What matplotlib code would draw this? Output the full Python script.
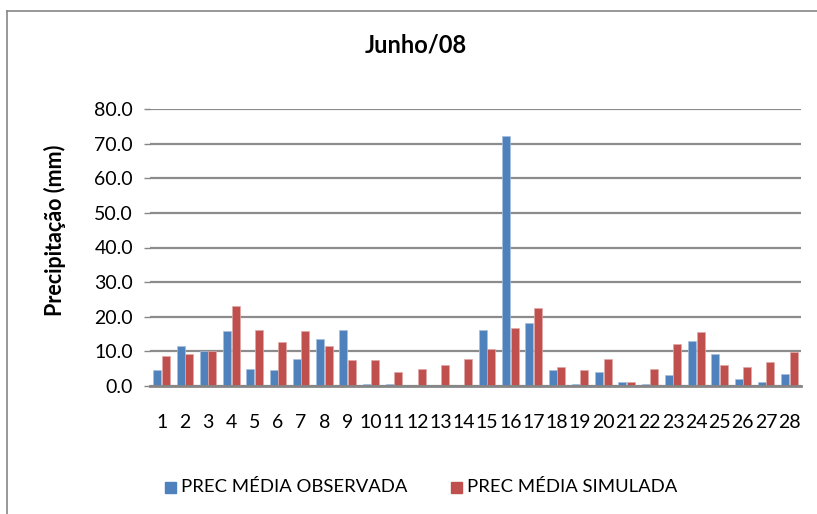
import matplotlib
matplotlib.use("Agg")
import matplotlib.pyplot as plt
import numpy as np
from matplotlib.patches import Rectangle
from matplotlib.lines import Line2D

days = [str(d) for d in range(1, 29)]
observada = [4.5, 11.6, 10.2, 15.9, 5.0, 4.5, 7.9, 13.5, 16.3, 0.7,
             0.7, 0.1, 0.0, 0.0, 16.3, 72.2, 18.3, 4.5, 0.7, 4.0,
             1.2, 0.7, 3.1, 13.1, 9.2, 2.1, 1.2, 3.5]
simulada = [8.8, 9.2, 10.2, 23.0, 16.3, 12.6, 15.9, 11.6, 7.4, 7.4,
            3.9, 5.0, 6.0, 7.9, 10.8, 16.8, 22.5, 5.5, 4.5, 7.9,
            1.25, 5.0, 12.2, 15.5, 6.0, 5.5, 6.9, 9.8]
yticks = [0, 10, 20, 30, 40, 50, 60, 70, 80]

plt.rcParams['font.family'] = ['Lato', 'DejaVu Sans']

fig = plt.figure(figsize=(8.17, 5.14), dpi=100)
W, H = 817, 514
ax = fig.add_axes([150 / W, 1 - 386 / H, (801 - 150) / W, (386 - 109) / H])

x = np.arange(len(days))
bw = 0.34
blue = '#4F81BD'
red = '#C0504D'
ax.bar(x - bw / 2 - 0.01, observada, bw, color=blue, edgecolor='#a7c0de', linewidth=0.5, zorder=3)
ax.bar(x + bw / 2 + 0.01, simulada, bw, color=red, edgecolor='#e0a9a8', linewidth=0.5, zorder=3)

ax.set_xlim(-0.5, len(days) - 0.5)
ax.set_ylim(0, 80)
ax.set_yticks(yticks)
ax.set_yticklabels([f"{v:.1f}" for v in yticks], fontsize=14)
ax.set_xticks(x)
ax.set_xticklabels(days, fontsize=14)
ax.tick_params(axis='x', length=0, pad=20)
ax.tick_params(axis='y', length=4.3, color='#868686', width=1, pad=8)
ax.yaxis.grid(True, color='#8c8c8c', linewidth=1.6, zorder=0)
ax.set_axisbelow(True)
for s in ['top', 'right', 'left']:
    ax.spines[s].set_visible(False)
ax.spines['bottom'].set_color('#868686')
ax.spines['bottom'].set_linewidth(2)
ax.spines['bottom'].set_zorder(4)

fig.text(416 / W, 1 - 45 / H, 'Junho/08', ha='center', va='center',
         fontsize=17, fontweight='bold')
fig.text(55 / W, 1 - 230 / H, 'Precipitação (mm)', ha='center', va='center',
         rotation=90, fontsize=15.5, fontweight='bold')

# frame
fig.add_artist(Line2D([7 / W, 7 / W], [0, 1 - 11 / H], color='#868686', linewidth=1.2))
fig.add_artist(Line2D([7 / W, 1.0], [1 - 11 / H, 1 - 11 / H], color='#868686', linewidth=1.2))

# legend
ly = 1 - 487 / H
fig.add_artist(Rectangle((165 / W, ly - 6 / H), 11 / W, 11 / H, color=blue, transform=fig.transFigure))
fig.text(181 / W, ly, 'PREC MÉDIA OBSERVADA', ha='left', va='center', fontsize=13.3)
fig.add_artist(Rectangle((451 / W, ly - 6 / H), 11 / W, 11 / H, color=red, transform=fig.transFigure))
fig.text(467 / W, ly, 'PREC MÉDIA SIMULADA', ha='left', va='center', fontsize=13.3)

fig.savefig('out.png', dpi=100)
